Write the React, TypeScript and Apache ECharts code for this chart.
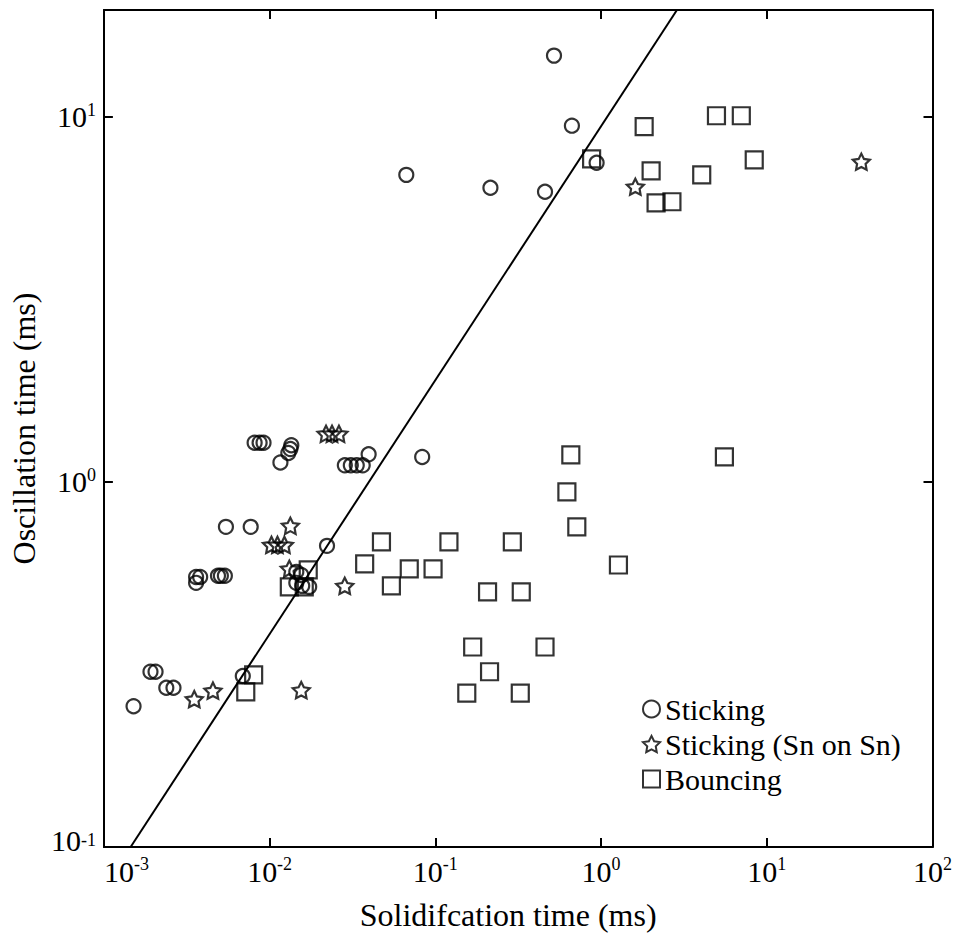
import React, { useEffect, useRef } from "react";
import * as echarts from "echarts";

// Sticking (circles)
const stickingX = [0.52, 0.667, 0.94, 0.0668, 0.215, 0.459, 0.00812, 0.0087, 0.00919, 0.01352, 0.01334, 0.01297, 0.01162, 0.02844, 0.0309, 0.03356, 0.03645, 0.03959, 0.0833, 0.00545, 0.00769, 0.0222, 0.0036, 0.00381, 0.0036, 0.00488, 0.00508, 0.00537, 0.01449, 0.01552, 0.01449, 0.01573, 0.01733, 0.00191, 0.00205, 0.00238, 0.00263, 0.00151, 0.00689];
const stickingY = [14.7, 9.45, 7.48, 6.93, 6.39, 6.23, 1.28, 1.28, 1.28, 1.26, 1.23, 1.2, 1.13, 1.11, 1.11, 1.11, 1.11, 1.19, 1.17, 0.753, 0.753, 0.668, 0.549, 0.549, 0.529, 0.553, 0.553, 0.553, 0.567, 0.556, 0.529, 0.519, 0.516, 0.302, 0.302, 0.273, 0.273, 0.243, 0.294];

// Sticking (Sn on Sn) (stars)
const snX = [0.0219, 0.0238, 0.0262, 0.01334, 0.01026, 0.01115, 0.01228, 0.01315, 0.0284, 0.00351, 0.00455, 0.01552, 1.61, 37.2];
const snY = [1.354, 1.354, 1.354, 0.758, 0.672, 0.672, 0.672, 0.578, 0.519, 0.254, 0.268, 0.269, 6.43, 7.53];

// Bouncing (squares)
const bounceX = [0.877, 1.82, 4.97, 7.02, 2.005, 4.05, 8.4, 2.148, 2.677, 0.657, 5.55, 0.622, 0.714, 0.1208, 0.2915, 1.273, 0.2066, 0.33, 0.168, 0.459, 0.2124, 0.1548, 0.3255, 0.03746, 0.0473, 0.0543, 0.0696, 0.0969, 0.0171, 0.01315, 0.01618, 0.00801, 0.00718];
const bounceY = [7.67, 9.39, 10.06, 10.06, 7.11, 6.93, 7.62, 5.81, 5.85, 1.186, 1.171, 0.939, 0.753, 0.685, 0.685, 0.592, 0.5, 0.5, 0.353, 0.353, 0.302, 0.264, 0.264, 0.596, 0.685, 0.519, 0.578, 0.578, 0.574, 0.516, 0.516, 0.296, 0.266];

// Boundary line endpoints
const lineX = [0.00145, 2.87];
const lineY = [0.1, 19.6];

const seriesNames = ["Sticking", "Sticking (Sn on Sn)", "Bouncing"];
const xTitle = "Solidifcation time (ms)";
const yTitle = "Oscillation time (ms)";

const FONT = "Liberation Serif";
const STAR =
  "path://M50,0 L64.69,29.77 L97.55,34.55 L73.78,57.73 L79.39,90.45 L50,75 L20.61,90.45 L26.22,57.73 L2.45,34.55 L35.31,29.77 Z";

const pairs = (xs: number[], ys: number[]) => xs.map((x, i) => [x, ys[i]]);

const xLabel = (v: number) => {
  const e = Math.round(Math.log10(v));
  return `{b|10}{s|${e}}`;
};
const yLabel = (v: number) => {
  const e = Math.round(Math.log10(v));
  return e === -1 ? `{bm|10}{s|${e}}` : `{b|10}{s|${e}}`;
};
const rich = {
  b: { fontSize: 30, fontFamily: FONT, color: "#000", lineHeight: 32 },
  bm: { fontSize: 30, fontFamily: FONT, color: "#000", lineHeight: 32, padding: [0, 0, 14, 0] },
  s: { fontSize: 18, fontFamily: FONT, color: "#000", lineHeight: 20, verticalAlign: "top" },
};

const axisLine = { show: true, lineStyle: { color: "#000", width: 2 } };
const axisTick = { show: true, inside: true, length: 9, lineStyle: { color: "#000", width: 2 } };

export default function App() {
  const ref = useRef<HTMLDivElement>(null);
  useEffect(() => {
    document.body.style.margin = "0";
    const chart = echarts.init(ref.current!, undefined, { renderer: "svg" });
    const itemStyle = { color: "rgba(0,0,0,0)", borderColor: "#000", borderWidth: 2.2 };
    chart.setOption({
      animation: false,
      backgroundColor: "#fff",
      textStyle: { fontFamily: FONT },
      grid: { left: 102, right: 17, top: 10, bottom: 91 },
      legend: {
        orient: "vertical",
        left: 637,
        top: 689,
        itemWidth: 17,
        itemHeight: 17,
        itemGap: 5,
        selectedMode: false,
        data: seriesNames,
        textStyle: { fontFamily: FONT, fontSize: 30, color: "#000", lineHeight: 30 },
      },
      xAxis: [
        {
          type: "log",
          logBase: 10,
          min: 0.001,
          max: 100,
          position: "bottom",
          axisLine,
          axisTick,
          splitLine: { show: false },
          axisLabel: { formatter: xLabel, rich, margin: 8, alignMinLabel: "left" },
          name: xTitle,
          nameLocation: "middle",
          nameGap: 52,
          nameTextStyle: { fontFamily: FONT, fontSize: 32, color: "#000", padding: [0, 20, 0, 0] },
        },
        {
          type: "log",
          logBase: 10,
          min: 0.001,
          max: 100,
          position: "top",
          axisLine,
          axisTick,
          splitLine: { show: false },
          axisLabel: { show: false },
        },
      ],
      yAxis: [
        {
          type: "log",
          logBase: 10,
          min: 0.1,
          max: 19.6,
          position: "left",
          axisLine,
          axisTick,
          splitLine: { show: false },
          axisLabel: { formatter: yLabel, rich, margin: 8, showMaxLabel: false },
          name: yTitle,
          nameLocation: "middle",
          nameGap: 58,
          nameTextStyle: { fontFamily: FONT, fontSize: 32, color: "#000" },
        },
        {
          type: "log",
          logBase: 10,
          min: 0.1,
          max: 19.6,
          position: "right",
          axisLine,
          axisTick,
          splitLine: { show: false },
          axisLabel: { show: false },
        },
      ],
      series: [
        {
          type: "line",
          name: "boundary",
          data: pairs(lineX, lineY),
          showSymbol: false,
          silent: true,
          lineStyle: { color: "#000", width: 2 },
          z: 1,
        },
        {
          type: "scatter",
          name: seriesNames[0],
          data: pairs(stickingX, stickingY),
          symbol: "circle",
          symbolSize: 14,
          itemStyle,
          silent: true,
          z: 2,
        },
        {
          type: "scatter",
          name: seriesNames[1],
          data: pairs(snX, snY),
          symbol: STAR,
          symbolKeepAspect: true,
          symbolSize: 17,
          itemStyle,
          silent: true,
          z: 2,
        },
        {
          type: "scatter",
          name: seriesNames[2],
          data: pairs(bounceX, bounceY),
          symbol: "rect",
          symbolSize: 17,
          itemStyle,
          silent: true,
          z: 2,
        },
      ],
    });
    return () => chart.dispose();
  }, []);
  return <div ref={ref} style={{ width: 955, height: 938 }} />;
}
